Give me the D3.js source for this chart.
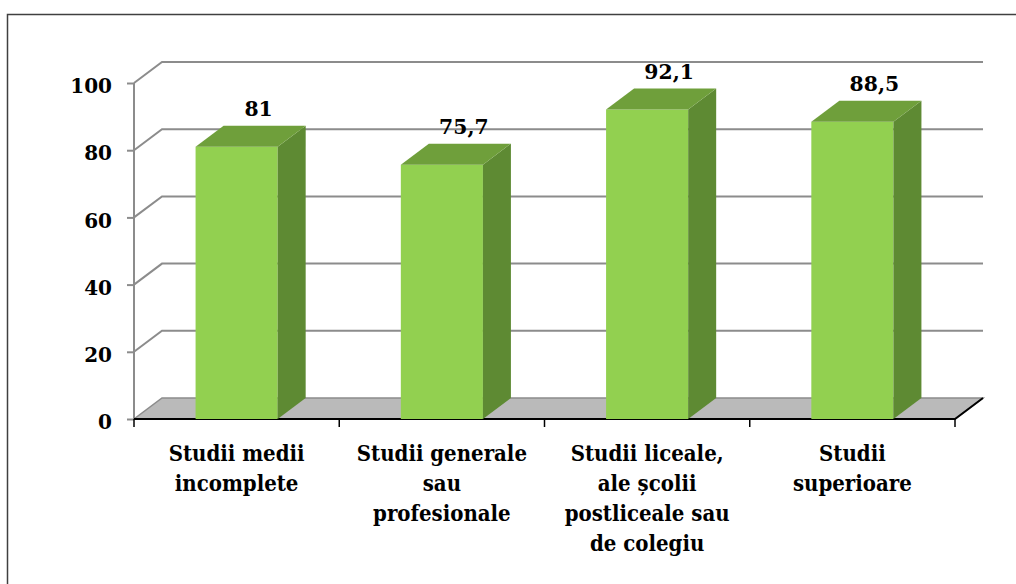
<!DOCTYPE html>
<html>
<head>
<meta charset="utf-8">
<script src="https://cdn.jsdelivr.net/npm/d3@7/dist/d3.min.js"></script>
<style>
  html, body { margin: 0; padding: 0; background: #fff; }
  svg { display: block; }
</style>
</head>
<body>
<svg id="chart" width="1016" height="584"></svg>
<script>
// Categories and their wrapped label lines
const categories = ["medii", "generale", "liceale", "superioare"];
const categoryLines = [
  ["Studii medii", "incomplete"],
  ["Studii generale", "sau", "profesionale"],
  ["Studii liceale,", "ale școlii", "postliceale sau", "de colegiu"],
  ["Studii", "superioare"]
];
const values = [81, 75.7, 92.1, 88.5];
const valueLabels = ["81", "75,7", "92,1", "88,5"];
const yTicks = [0, 20, 40, 60, 80, 100];

const FONT = "'DejaVu Serif', 'Liberation Serif', 'Times New Roman', serif";
const TEXT_SQUEEZE = 0.86; // horizontal squeeze for word labels
const NUM_SQUEEZE = 0.97;  // horizontal squeeze for numbers

const svg = d3.select("#chart");

// plot geometry
const plotLeft = 134, plotRight = 955, plotBottom = 419, plotTop = 83;
const depthX = 28, depthY = -21;

const x = d3.scaleBand().domain(categories).range([plotLeft, plotRight])
  .paddingInner(0.6).paddingOuter(0.3);
const y = d3.scaleLinear().domain([0, 100]).range([plotBottom, plotTop]);

// outer frame
svg.append("rect")
  .attr("x", 7.5).attr("y", 14.5).attr("width", 1030).attr("height", 600)
  .attr("fill", "none").attr("stroke", "#404040").attr("stroke-width", 1.5);

// floor
svg.append("polygon")
  .attr("points", [[plotLeft, plotBottom], [plotRight, plotBottom], [plotRight + depthX, plotBottom + depthY], [plotLeft + depthX, plotBottom + depthY]].join(" "))
  .attr("fill", "#bababa").attr("stroke", "#8c8c8c").attr("stroke-width", 1.5);

// gridlines: side-wall diagonal + back-wall horizontal
const grid = svg.append("g").attr("fill", "none").attr("stroke", "#8c8c8c").attr("stroke-width", 2);
yTicks.filter(v => v > 0).forEach(v => {
  grid.append("path")
    .attr("d", `M${plotLeft},${y(v)} L${plotLeft + depthX},${y(v) + depthY} L${plotRight + depthX},${y(v) + depthY}`);
});

// y axis line and ticks
svg.append("line")
  .attr("x1", plotLeft).attr("x2", plotLeft).attr("y1", y(100)).attr("y2", plotBottom)
  .attr("stroke", "#8c8c8c").attr("stroke-width", 2);
const yAxis = d3.axisLeft(y).tickValues(yTicks).tickSize(7).tickPadding(15).tickFormat(d3.format("d"));
const yg = svg.append("g").attr("transform", `translate(${plotLeft},0)`).call(yAxis)
  .attr("font-family", FONT).attr("font-size", 20).attr("font-weight", "bold");
yg.select(".domain").remove();
yg.selectAll(".tick line").attr("stroke", "#8c8c8c").attr("stroke-width", 2);
yg.selectAll(".tick text")
  .attr("fill", "#000")
  .attr("x", 0).attr("dy", "0.48em")
  .attr("transform", "translate(-22,0)");

// front edge of floor and right diagonal
svg.append("path")
  .attr("d", `M${plotLeft},${plotBottom} L${plotRight},${plotBottom} L${plotRight + depthX},${plotBottom + depthY}`)
  .attr("fill", "none").attr("stroke", "#000").attr("stroke-width", 2);

// category boundary ticks
const step = x.step();
const bounds = d3.range(categories.length + 1).map(i => plotLeft + i * step);
svg.append("g").selectAll("line").data(bounds).join("line")
  .attr("x1", d => d).attr("x2", d => d).attr("y1", plotBottom).attr("y2", plotBottom + 8)
  .attr("stroke", "#000").attr("stroke-width", 1.5);

// bars: front, side and top faces
const bw = x.bandwidth();
const bars = svg.append("g").selectAll("g").data(values).join("g");
bars.append("polygon")
  .attr("points", (d, i) => {
    const x0 = x(categories[i]), x1 = x0 + bw, yt = y(d);
    return [[x0, plotBottom], [x1, plotBottom], [x1, yt], [x0, yt]].join(" ");
  })
  .attr("fill", "#92d050");
bars.append("polygon")
  .attr("points", (d, i) => {
    const x1 = x(categories[i]) + bw, yt = y(d);
    return [[x1, plotBottom], [x1 + depthX, plotBottom + depthY], [x1 + depthX, yt + depthY], [x1, yt]].join(" ");
  })
  .attr("fill", "#5e8a33");
bars.append("polygon")
  .attr("points", (d, i) => {
    const x0 = x(categories[i]), x1 = x0 + bw, yt = y(d);
    return [[x0, yt], [x1, yt], [x1 + depthX, yt + depthY], [x0 + depthX, yt + depthY]].join(" ");
  })
  .attr("fill", "#6f9f3b");

// value labels
svg.append("g").attr("font-family", FONT).attr("font-weight", "bold").attr("font-size", 21)
  .selectAll("text").data(values).join("text")
  .attr("transform", (d, i) => `translate(${x(categories[i]) + bw / 2 + 22},${y(d) - 31}) scale(${NUM_SQUEEZE},1)`)
  .attr("text-anchor", "middle")
  .attr("fill", "#000")
  .text((d, i) => valueLabels[i]);

// category labels
const cl = svg.append("g").attr("font-family", FONT).attr("font-weight", "bold").attr("font-size", 23)
  .selectAll("text").data(categoryLines).join("text")
  .attr("transform", (d, i) => `translate(${x(categories[i]) + bw / 2},0) scale(${TEXT_SQUEEZE},1)`)
  .attr("text-anchor", "middle")
  .attr("fill", "#000");
cl.each(function (lines) {
  d3.select(this).selectAll("tspan").data(lines).join("tspan")
    .attr("x", 0)
    .attr("y", (d, j) => 461 + j * 30)
    .text(d => d);
});
</script>
</body>
</html>
